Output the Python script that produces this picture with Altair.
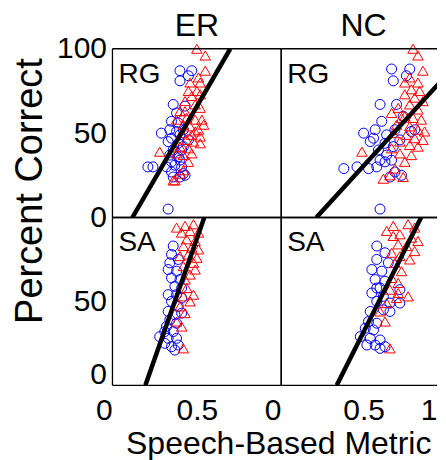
import altair as alt
import pandas as pd

FONT = "Liberation Sans"

# ---- ER / RG ----
er_rg_circ_x = [0.40, 0.47, 0.40, 0.45, 0.36, 0.43, 0.38, 0.35, 0.39, 0.29, 0.34, 0.38, 0.35, 0.40, 0.33, 0.39,
                0.36, 0.41, 0.34, 0.39, 0.35, 0.40, 0.21, 0.24, 0.32, 0.37, 0.41, 0.35, 0.42, 0.36, 0.40, 0.43,
                0.33, 0.42, 0.45, 0.42]
er_rg_circ_y = [87, 87, 81, 84, 67, 66, 62, 57, 56, 50, 52, 51, 47, 49, 45, 44,
                40, 40, 37, 36, 33, 34, 30, 30, 30, 31, 30, 27, 26, 24, 24, 25,
                5, 52, 46, 42]
er_rg_tri_x = [0.50, 0.55, 0.55, 0.51, 0.46, 0.52, 0.45, 0.50, 0.47, 0.52, 0.43, 0.49, 0.40, 0.52, 0.44, 0.49,
               0.53, 0.38, 0.42, 0.46, 0.51, 0.41, 0.47, 0.52, 0.44, 0.48, 0.52, 0.40, 0.45, 0.28, 0.38, 0.42,
               0.47, 0.45, 0.42, 0.40, 0.37, 0.36, 0.49, 0.54, 0.43]
er_rg_tri_y = [100, 96, 87, 83, 80, 80, 75, 75, 72, 73, 69, 67, 63, 65, 59, 58,
               58, 58, 55, 54, 52, 50, 49, 48, 46, 45, 44, 42, 41, 39, 38, 37,
               38, 33, 28, 26, 22, 22, 51, 55, 63]

# ---- NC / RG ----
nc_rg_circ_x = [0.67, 0.78, 0.68, 0.76, 0.60, 0.70, 0.61, 0.57, 0.50, 0.56, 0.64, 0.69, 0.81, 0.63, 0.68, 0.59,
                0.64, 0.60, 0.38, 0.46, 0.53, 0.58, 0.63, 0.67, 0.69, 0.73, 0.66, 0.60, 0.74, 0.79, 0.54, 0.72]
nc_rg_circ_y = [88, 88, 81, 84, 67, 67, 57, 52, 50, 47, 49, 52, 52, 44, 42, 40,
                37, 34, 29, 30, 29, 30, 33, 34, 27, 25, 24, 5, 60, 51, 45, 46]
nc_rg_tri_x = [0.80, 0.83, 0.86, 0.78, 0.75, 0.83, 0.79, 0.84, 0.75, 0.81, 0.86, 0.78, 0.71, 0.67, 0.83, 0.73,
               0.80, 0.85, 0.70, 0.78, 0.83, 0.68, 0.76, 0.81, 0.86, 0.72, 0.78, 0.83, 0.49, 0.67, 0.72, 0.79,
               0.75, 0.69, 0.66, 0.62, 0.74, 0.75, 0.87]
nc_rg_tri_y = [100, 96, 87, 83, 80, 80, 76, 75, 73, 71, 69, 67, 65, 62, 64, 59,
               59, 58, 55, 54, 52, 50, 49, 47, 46, 45, 43, 42, 39, 41, 38, 37,
               33, 29, 25, 23, 24, 60, 51]

# ---- ER / SA ----
er_sa_circ_x = [0.36, 0.35, 0.39, 0.33, 0.38, 0.35, 0.40, 0.37, 0.33, 0.38, 0.41, 0.35, 0.39, 0.33, 0.37, 0.41,
                0.34, 0.38, 0.32, 0.31, 0.36, 0.28, 0.33, 0.38, 0.31, 0.35, 0.39, 0.37, 0.41, 0.34]
er_sa_circ_y = [83, 78, 75, 69, 68, 64, 63, 59, 54, 54, 52, 50, 47, 44, 42, 43,
                39, 37, 35, 32, 32, 29, 28, 28, 25, 23, 24, 21, 58, 73]
er_sa_tri_x = [0.38, 0.43, 0.48, 0.41, 0.46, 0.51, 0.44, 0.49, 0.42, 0.47, 0.51, 0.45, 0.50, 0.48, 0.42, 0.46,
               0.43, 0.44, 0.48, 0.42, 0.46, 0.40, 0.43, 0.38, 0.41, 0.42, 0.49, 0.40]
er_sa_tri_y = [94, 95, 96, 91, 92, 91, 87, 86, 83, 82, 81, 78, 76, 73, 71, 66,
               63, 58, 54, 53, 50, 47, 43, 38, 35, 22, 69, 77]

# ---- NC / SA ----
nc_sa_circ_x = [0.58, 0.63, 0.58, 0.55, 0.61, 0.65, 0.57, 0.63, 0.60, 0.55, 0.62, 0.72, 0.58, 0.66, 0.72, 0.54,
                0.62, 0.66, 0.53, 0.58, 0.51, 0.56, 0.48, 0.54, 0.60, 0.52, 0.57, 0.63, 0.60, 0.58]
nc_sa_circ_y = [83, 79, 75, 69, 68, 73, 63, 62, 58, 55, 53, 57, 50, 49, 49, 44,
                45, 44, 38, 37, 34, 33, 29, 28, 27, 24, 24, 23, 22, 58]
nc_sa_tri_x = [0.64, 0.68, 0.77, 0.81, 0.68, 0.72, 0.79, 0.71, 0.76, 0.81, 0.67, 0.72, 0.78, 0.69, 0.73, 0.67,
               0.71, 0.66, 0.77, 0.70, 0.64, 0.60, 0.63, 0.66, 0.71, 0.83]
nc_sa_tri_y = [92, 95, 96, 94, 89, 90, 88, 84, 83, 80, 79, 77, 75, 73, 68, 64,
               61, 57, 53, 52, 49, 44, 38, 22, 55, 86]

# regression lines: metric value at 0 % and at 100 % correct
fit_x0 = {("ER", "RG"): 0.118, ("NC", "RG"): 0.213, ("ER", "SA"): 0.195, ("NC", "SA"): 0.337}
fit_x1 = {("ER", "RG"): 0.698, ("NC", "RG"): 1.149, ("ER", "SA"): 0.544, ("NC", "SA"): 0.849}

series = {
    ("ER", "RG"): (er_rg_circ_x, er_rg_circ_y, er_rg_tri_x, er_rg_tri_y),
    ("NC", "RG"): (nc_rg_circ_x, nc_rg_circ_y, nc_rg_tri_x, nc_rg_tri_y),
    ("ER", "SA"): (er_sa_circ_x, er_sa_circ_y, er_sa_tri_x, er_sa_tri_y),
    ("NC", "SA"): (nc_sa_circ_x, nc_sa_circ_y, nc_sa_tri_x, nc_sa_tri_y),
}

W_LEFT, W_RIGHT, H_TOP, H_BOT = 169, 156, 169, 168
PX_PER_UNIT = 165.0                      # right column: the picture is cut at its right edge
RIGHT_MAX = W_RIGHT / PX_PER_UNIT

XS_L = alt.Scale(domain=[0, 1], nice=False, zero=False)
XS_R = alt.Scale(domain=[0, RIGHT_MAX], nice=False, zero=False)
YS = alt.Scale(domain=[0, 100], nice=False, zero=False)
ONE = pd.DataFrame({"k": [0]})


def border(width, height, right):
    rl = alt.Chart(ONE).mark_rule(color="black", strokeWidth=1.3)
    parts = [
        rl.encode(x=alt.value(0), x2=alt.value(width), y=alt.value(0)),
        rl.encode(x=alt.value(0), x2=alt.value(width), y=alt.value(height)),
        rl.encode(x=alt.value(0), y=alt.value(0), y2=alt.value(height)),
    ]
    if right:
        parts.append(rl.encode(x=alt.value(width), y=alt.value(0), y2=alt.value(height)))
    return parts


def panel(col, row, width, height, xaxis, yaxis, title=None):
    xs = XS_L if col == "ER" else XS_R
    cx, cy, tx, ty = series[(col, row)]
    circ_df = pd.DataFrame({"x": cx, "y": cy})
    tri_df = pd.DataFrame({"x": tx, "y": ty})
    line_df = pd.DataFrame({"x": [fit_x0[(col, row)], fit_x1[(col, row)]], "y": [0, 100]})
    lab_df = pd.DataFrame({"label": [row]})

    circ = alt.Chart(circ_df).mark_point(shape="circle", filled=False, color="#0000ff",
                                         size=100, strokeWidth=1, opacity=1).encode(
        x=alt.X("x:Q", scale=xs, axis=xaxis), y=alt.Y("y:Q", scale=YS, axis=yaxis))
    tri = alt.Chart(tri_df).mark_point(shape="triangle-up", filled=False, color="#ff0000",
                                       size=110, strokeWidth=1, opacity=1).encode(
        x=alt.X("x:Q", scale=xs), y=alt.Y("y:Q", scale=YS))
    line = alt.Chart(line_df).mark_line(color="black", strokeWidth=4.5, clip=True).encode(
        x=alt.X("x:Q", scale=xs), y=alt.Y("y:Q", scale=YS))
    lab = alt.Chart(lab_df).mark_text(align="left", baseline="alphabetic", fontSize=28,
                                      font=FONT, color="black").encode(
        x=alt.value(6), y=alt.value(34), text="label:N")
    layers = [circ, tri, line, lab] + border(width, height, col == "ER")
    if title is not None:
        head = alt.Chart(pd.DataFrame({"head": [title]})).mark_text(
            align="center", baseline="alphabetic", fontSize=32, font=FONT, color="black").encode(
            x=alt.value(PX_PER_UNIT / 2 if col == "NC" else width / 2), y=alt.value(-13),
            text="head:N")
        layers.append(head)
    return alt.layer(*layers).properties(width=width, height=height)


common = dict(grid=False, ticks=False, domain=False, labelFont=FONT, labelFontSize=30,
              labelColor="black")

y_tl = alt.Axis(values=[0, 50, 100], labelPadding=6, title="Percent Correct", titleFont=FONT,
                titleFontSize=38, titleFontWeight="normal", titleColor="black",
                titleAngle=270, titleBaseline="alphabetic", titleAlign="center",
                titleX=-71, titleY=142, labelExpr="'' + datum.value", **common)
y_bl = alt.Axis(values=[0, 50], labelPadding=6, title=None, labelExpr="'' + datum.value",
                labelOffset={"condition": {"test": "datum.value == 0", "value": -11}, "value": 0},
                **common)
x_bl = alt.Axis(values=[0, 0.5], labelPadding=10, title="Speech-Based Metric", titleFont=FONT,
                titleFontSize=32, titleFontWeight="normal", titleColor="black",
                titleBaseline="alphabetic", titleAlign="center", titleX=166, titleY=68,
                labelExpr="'' + datum.value",
                labelOffset={"condition": {"test": "datum.value == 0", "value": -17}, "value": 0},
                **common)
x_br = alt.Axis(values=[0, 0.5, RIGHT_MAX], labelPadding=10, title=None,
                labelExpr="datum.value > 0.9 ? '1' : '' + datum.value",
                labelOffset={"condition": {"test": "datum.value == 0", "value": -17}, "value": 0},
                **common)

tl = panel("ER", "RG", W_LEFT, H_TOP, None, y_tl, "ER")
tr = panel("NC", "RG", W_RIGHT, H_TOP, None, None, "NC")
bl = panel("ER", "SA", W_LEFT, H_BOT, x_bl, y_bl)
br = panel("NC", "SA", W_RIGHT, H_BOT, x_br, None)

chart = alt.concat(tl, tr, bl, br, columns=2, spacing=0, bounds="flush").properties(
    padding={"left": 2.6, "top": 1.5, "right": 0, "bottom": 0}
).configure(background="white").configure_view(stroke="transparent", strokeWidth=0)

chart.save("out.html", embed_options={"renderer": "svg", "actions": False})
